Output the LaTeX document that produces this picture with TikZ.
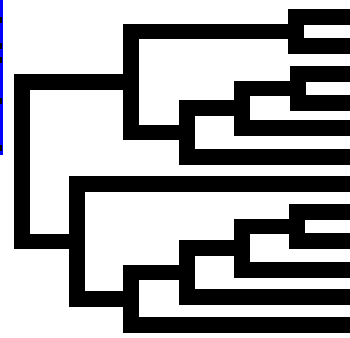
\documentclass[tikz,border=0pt]{standalone}
\usepackage{tikz}
\tikzset{branch/.style={draw=black,line width=15.5pt}}

\begin{document}
\begin{tikzpicture}[x=1pt,y=-1pt]
    \useasboundingbox (0,0) rectangle (350,337);
    \clip (0,0) rectangle (350,337);

    % Strip at the left edge
    \fill[blue] (0,0) rectangle (3,155);
    \foreach \y in {17,43,57,98,145}
        \fill[black] (0,\y) rectangle (1.6,\y+6);

    % Leaves (run off the right edge)
    \foreach \y [count=\i] in {17,46,74,103,128,157,184,212,241,270,297,325}
        \coordinate (l\i) at (360,\y);

    % Junctions
    \coordinate (a1) at (296,31.5);
    \coordinate (a4) at (298,88.5);
    \coordinate (a3) at (242,108);
    \coordinate (a2) at (187,132.5);
    \coordinate (a)  at (131,82);
    \coordinate (b4) at (297,226.5);
    \coordinate (b3) at (242,248);
    \coordinate (b2) at (187,272.5);
    \coordinate (b1) at (131,298.8);
    \coordinate (b)  at (77,241.4);
    \coordinate (root) at (22,161.7);

    % Upper cluster
    \draw[branch] (l1) -| (a1) |- (l2);
    \draw[branch] (l3) -| (a4) |- (l4);
    \draw[branch] (a4) -| (a3) |- (l5);
    \draw[branch] (a3) -| (a2) |- (l6);
    \draw[branch] (a1) -| (a) |- (a2);

    % Lower cluster
    \draw[branch] (l8) -| (b4) |- (l9);
    \draw[branch] (b4) -| (b3) |- (l10);
    \draw[branch] (b3) -| (b2) |- (l11);
    \draw[branch] (b2) -| (b1) |- (l12);
    \draw[branch] (l7) -| (b) |- (b1);

    % Root
    \draw[branch] (a) -| (root) |- (b);
\end{tikzpicture}
\end{document}
